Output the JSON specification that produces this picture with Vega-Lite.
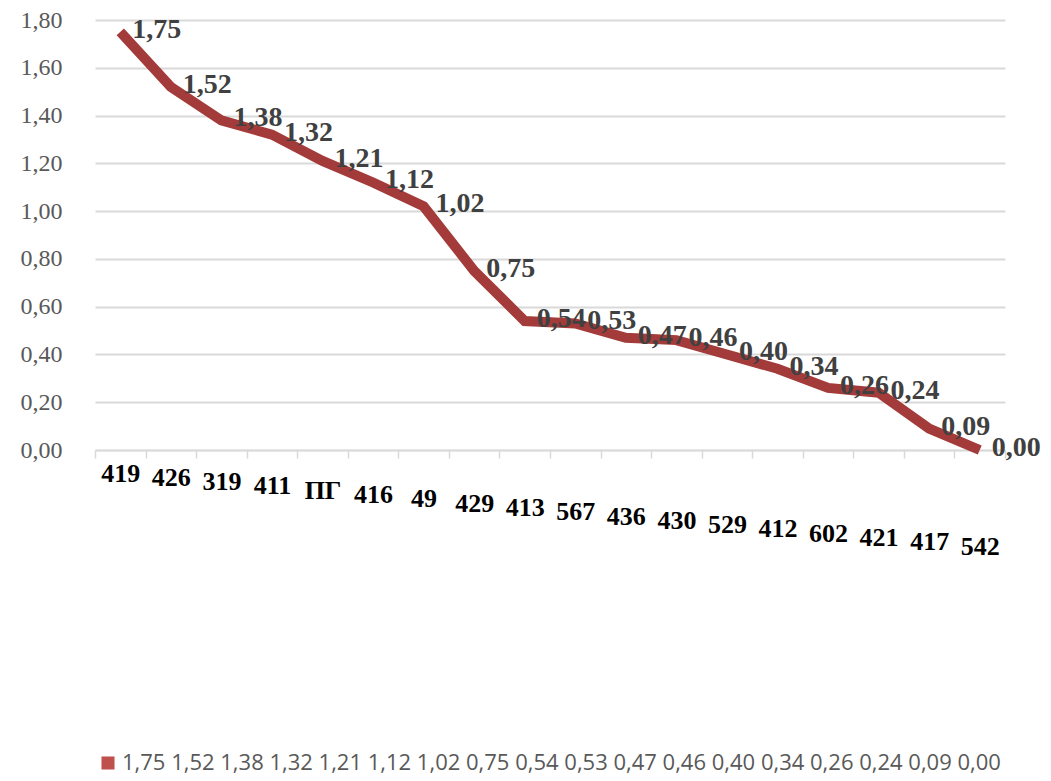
{
  "$schema": "https://vega.github.io/schema/vega-lite/v6.json",
  "autosize": {"type": "none"},
  "width": 910,
  "height": 430,
  "padding": {"left": 95, "top": 20, "right": 46, "bottom": 331},
  "background": "white",
  "config": {
    "view": {"stroke": null},
    "locale": {"number": {"decimal": ",", "thousands": " ", "grouping": [3], "currency": ["", ""]}}
  },
  "data": {
    "values": [
      {"cat": "419", "v": 1.75, "series": "1,75 1,52 1,38 1,32 1,21 1,12 1,02 0,75 0,54 0,53 0,47 0,46 0,40 0,34 0,26 0,24 0,09 0,00"},
      {"cat": "426", "v": 1.52, "series": "1,75 1,52 1,38 1,32 1,21 1,12 1,02 0,75 0,54 0,53 0,47 0,46 0,40 0,34 0,26 0,24 0,09 0,00"},
      {"cat": "319", "v": 1.38, "series": "1,75 1,52 1,38 1,32 1,21 1,12 1,02 0,75 0,54 0,53 0,47 0,46 0,40 0,34 0,26 0,24 0,09 0,00"},
      {"cat": "411", "v": 1.32, "series": "1,75 1,52 1,38 1,32 1,21 1,12 1,02 0,75 0,54 0,53 0,47 0,46 0,40 0,34 0,26 0,24 0,09 0,00"},
      {"cat": "ПГ", "v": 1.21, "series": "1,75 1,52 1,38 1,32 1,21 1,12 1,02 0,75 0,54 0,53 0,47 0,46 0,40 0,34 0,26 0,24 0,09 0,00"},
      {"cat": "416", "v": 1.12, "series": "1,75 1,52 1,38 1,32 1,21 1,12 1,02 0,75 0,54 0,53 0,47 0,46 0,40 0,34 0,26 0,24 0,09 0,00"},
      {"cat": "49", "v": 1.02, "series": "1,75 1,52 1,38 1,32 1,21 1,12 1,02 0,75 0,54 0,53 0,47 0,46 0,40 0,34 0,26 0,24 0,09 0,00"},
      {"cat": "429", "v": 0.75, "series": "1,75 1,52 1,38 1,32 1,21 1,12 1,02 0,75 0,54 0,53 0,47 0,46 0,40 0,34 0,26 0,24 0,09 0,00"},
      {"cat": "413", "v": 0.54, "series": "1,75 1,52 1,38 1,32 1,21 1,12 1,02 0,75 0,54 0,53 0,47 0,46 0,40 0,34 0,26 0,24 0,09 0,00"},
      {"cat": "567", "v": 0.53, "series": "1,75 1,52 1,38 1,32 1,21 1,12 1,02 0,75 0,54 0,53 0,47 0,46 0,40 0,34 0,26 0,24 0,09 0,00"},
      {"cat": "436", "v": 0.47, "series": "1,75 1,52 1,38 1,32 1,21 1,12 1,02 0,75 0,54 0,53 0,47 0,46 0,40 0,34 0,26 0,24 0,09 0,00"},
      {"cat": "430", "v": 0.46, "series": "1,75 1,52 1,38 1,32 1,21 1,12 1,02 0,75 0,54 0,53 0,47 0,46 0,40 0,34 0,26 0,24 0,09 0,00"},
      {"cat": "529", "v": 0.40, "series": "1,75 1,52 1,38 1,32 1,21 1,12 1,02 0,75 0,54 0,53 0,47 0,46 0,40 0,34 0,26 0,24 0,09 0,00"},
      {"cat": "412", "v": 0.34, "series": "1,75 1,52 1,38 1,32 1,21 1,12 1,02 0,75 0,54 0,53 0,47 0,46 0,40 0,34 0,26 0,24 0,09 0,00"},
      {"cat": "602", "v": 0.26, "series": "1,75 1,52 1,38 1,32 1,21 1,12 1,02 0,75 0,54 0,53 0,47 0,46 0,40 0,34 0,26 0,24 0,09 0,00"},
      {"cat": "421", "v": 0.24, "series": "1,75 1,52 1,38 1,32 1,21 1,12 1,02 0,75 0,54 0,53 0,47 0,46 0,40 0,34 0,26 0,24 0,09 0,00"},
      {"cat": "417", "v": 0.09, "series": "1,75 1,52 1,38 1,32 1,21 1,12 1,02 0,75 0,54 0,53 0,47 0,46 0,40 0,34 0,26 0,24 0,09 0,00"},
      {"cat": "542", "v": 0.00, "series": "1,75 1,52 1,38 1,32 1,21 1,12 1,02 0,75 0,54 0,53 0,47 0,46 0,40 0,34 0,26 0,24 0,09 0,00"}
    ]
  },
  "encoding": {
    "x": {
      "field": "cat", "type": "nominal", "sort": null,
      "scale": {"type": "band", "paddingInner": 0, "paddingOuter": 0},
      "axis": {
        "title": null, "labelAngle": 0, "tickBand": "extent",
        "domainColor": "#d9d9d9", "domainWidth": 1.5, "tickColor": "#d9d9d9", "tickWidth": 1.5, "tickSize": 8,
        "labelFont": "Liberation Serif", "labelFontWeight": "bold", "labelFontSize": 26, "labelColor": "#000000",
        "labelBaseline": "top",
        "labelPadding": {"expr": "2 + indexof(domain('x'), datum.value) * 4.3"}
      }
    },
    "y": {
      "field": "v", "type": "quantitative",
      "scale": {"domain": [0, 1.8], "nice": false},
      "axis": {
        "title": null, "values": [0, 0.2, 0.4, 0.6, 0.8, 1.0, 1.2, 1.4, 1.6, 1.8],
        "format": ".2f", "domain": false, "ticks": false,
        "gridColor": "#d9d9d9", "gridWidth": 1.8,
        "labelFont": "Liberation Serif", "labelFontSize": 24, "labelColor": "#595959", "labelPadding": 33
      }
    }
  },
  "layer": [
    {
      "mark": {"type": "line", "strokeWidth": 10, "strokeJoin": "miter"},
      "encoding": {
        "color": {
          "field": "series", "type": "nominal",
          "scale": {"range": ["#A33B3A"]},
          "legend": {
            "title": null, "orient": "none", "legendX": 2, "legendY": 732, "padding": 0,
            "symbolType": "square", "symbolSize": 170, "symbolStrokeWidth": 0,
            "labelFont": "Open Sans", "labelFontSize": 22, "labelColor": "#595959", "labelOffset": 3, "labelLimit": 1000,
            "encode": {"symbols": {"update": {"fill": {"value": "#C0504D"}, "stroke": {"value": "#C0504D"}, "opacity": {"value": 1}}}}
          }
        }
      }
    },
    {
      "mark": {"type": "text", "align": "left", "baseline": "middle", "dx": 12, "dy": -2, "font": "Liberation Serif", "fontWeight": "bold", "fontSize": 28, "color": "#404040"},
      "encoding": {"text": {"field": "v", "type": "quantitative", "format": ".2f"}}
    }
  ]
}
